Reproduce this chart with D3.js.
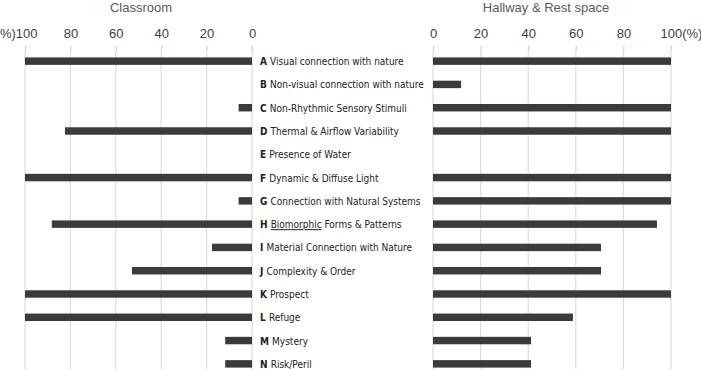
<!DOCTYPE html>
<html>
<head>
<meta charset="utf-8">
<script src="https://cdn.jsdelivr.net/npm/d3@7"></script>
<style>
  body { margin: 0; background: #fff; }
  svg { display: block; }
  .tick text { font-family: "Liberation Sans", Arial, sans-serif; font-size: 13px; fill: #404040; }
  .title { font-family: "Liberation Sans", Arial, sans-serif; font-size: 13px; fill: #595959; }
  .label { font-family: "DejaVu Sans Condensed", sans-serif; font-size: 10px; fill: #222; }
</style>
</head>
<body>
<svg width="701" height="369"></svg>
<script>
const categories = ['A', 'B', 'C', 'D', 'E', 'F', 'G', 'H', 'I', 'J', 'K', 'L', 'M', 'N'];
const names = [
  'Visual connection with nature',
  'Non-visual connection with nature',
  'Non-Rhythmic Sensory Stimuli',
  'Thermal & Airflow Variability',
  'Presence of Water',
  'Dynamic & Diffuse Light',
  'Connection with Natural Systems',
  'Biomorphic Forms & Patterns',
  'Material Connection with Nature',
  'Complexity & Order',
  'Prospect',
  'Refuge',
  'Mystery',
  'Risk/Peril'
];
const classroom = [100, 0, 5.9, 82.4, 0, 100, 5.9, 88.2, 17.6, 52.9, 100, 100, 11.8, 11.8];
const hallway = [100, 11.8, 100, 100, 0, 100, 100, 94.1, 70.6, 70.6, 100, 58.8, 41.2, 41.2];
const tickValues = [0, 20, 40, 60, 80, 100];

const rows = categories.map((c, i) => ({ id: c, name: names[i], left: classroom[i], right: hallway[i] }));

const AXIS_Y = 50;
const svg = d3.select('svg');

const y = d3.scaleBand()
  .domain(categories)
  .range([49.5, 375.5])
  .paddingInner(0.68)
  .paddingOuter(0.34);

const xLeft = d3.scaleLinear().domain([0, 100]).range([252, 25]);
const xRight = d3.scaleLinear().domain([0, 100]).range([433, 671]);

// gridlines
function grid(x) {
  svg.append('g')
    .selectAll('line')
    .data(tickValues)
    .enter()
    .append('line')
    .attr('x1', d => x(d)).attr('x2', d => x(d))
    .attr('y1', AXIS_Y).attr('y2', 369)
    .attr('stroke', '#dcdcdc')
    .attr('stroke-width', 1.2);
}
grid(xLeft);
grid(xRight);

// top axes
const leftAxis = svg.append('g')
  .attr('transform', `translate(0,${AXIS_Y})`)
  .call(d3.axisTop(xLeft).tickValues(tickValues).tickSize(4).tickPadding(8)
    .tickFormat(d => d === 100 ? '(%)100' : d));
leftAxis.select('.domain').remove();
leftAxis.selectAll('.tick line').attr('stroke', '#c8c8c8');
leftAxis.selectAll('.tick text').filter(d => d === 100).attr('text-anchor', 'end').attr('dx', 12);

const rightAxis = svg.append('g')
  .attr('transform', `translate(0,${AXIS_Y})`)
  .call(d3.axisTop(xRight).tickValues(tickValues).tickSize(4).tickPadding(8)
    .tickFormat(d => d === 100 ? '100(%)' : d));
rightAxis.select('.domain').remove();
rightAxis.selectAll('.tick line').attr('stroke', '#c8c8c8');
rightAxis.selectAll('.tick text').filter(d => d === 100).attr('text-anchor', 'start').attr('dx', -11);

// titles
svg.append('text').attr('class', 'title').attr('x', 141).attr('y', 12).attr('text-anchor', 'middle').text('Classroom');
svg.append('text').attr('class', 'title').attr('x', 546).attr('y', 12).attr('text-anchor', 'middle').text('Hallway & Rest space');

// bars
const barColor = '#3b3b3b';
svg.append('g')
  .selectAll('.bar-left')
  .data(rows.filter(d => d.left > 0))
  .enter()
  .append('rect')
  .attr('class', 'bar-left')
  .attr('x', d => xLeft(d.left))
  .attr('width', d => xLeft(0) - xLeft(d.left))
  .attr('y', d => y(d.id))
  .attr('height', y.bandwidth())
  .attr('fill', barColor);

svg.append('g')
  .selectAll('.bar-right')
  .data(rows.filter(d => d.right > 0))
  .enter()
  .append('rect')
  .attr('class', 'bar-right')
  .attr('x', xRight(0))
  .attr('width', d => xRight(d.right) - xRight(0))
  .attr('y', d => y(d.id))
  .attr('height', y.bandwidth())
  .attr('fill', barColor);

// category labels
const labels = svg.append('g')
  .selectAll('text')
  .data(rows)
  .enter()
  .append('text')
  .attr('class', 'label')
  .attr('x', 260)
  .attr('y', d => y(d.id) + y.bandwidth() / 2 + 4);
labels.append('tspan').attr('font-weight', 'bold').text(d => d.id + ' ');
labels.each(function (d) {
  const t = d3.select(this);
  if (d.id === 'H') {
    t.append('tspan').attr('text-decoration', 'underline').text('Biomorphic');
    t.append('tspan').text(' Forms & Patterns');
  } else {
    t.append('tspan').text(d.name);
  }
});
</script>
</body>
</html>
